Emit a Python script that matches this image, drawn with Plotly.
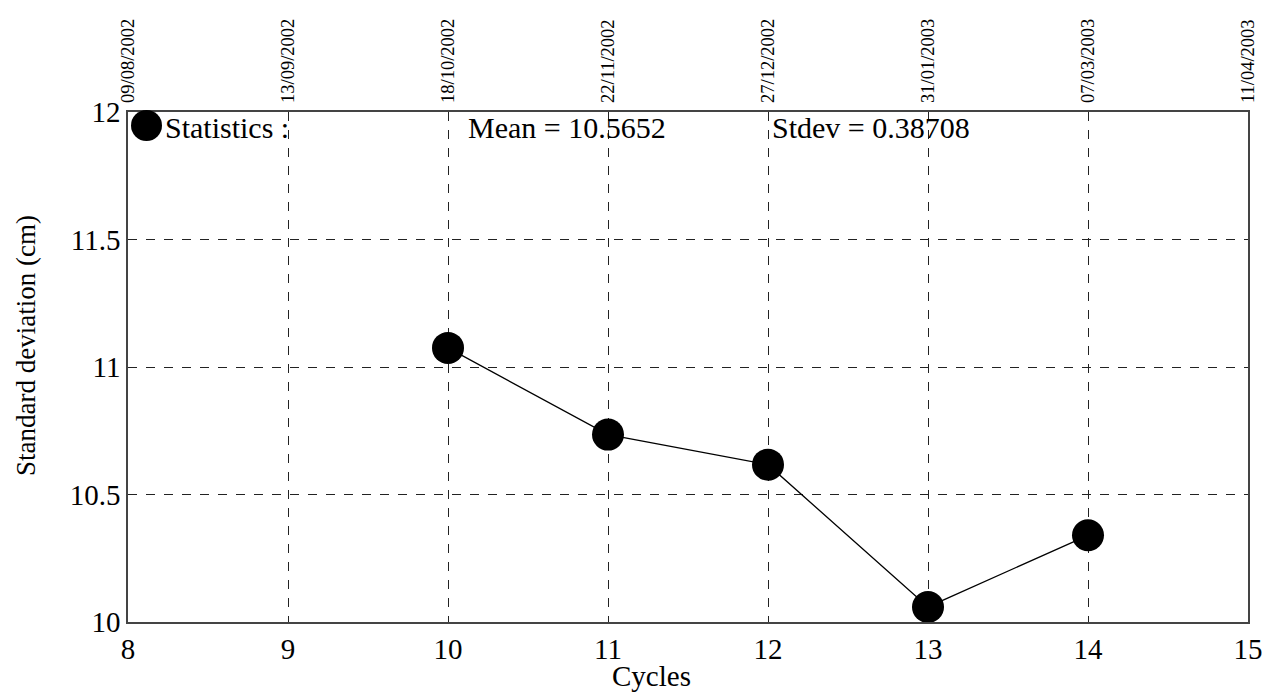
import plotly.graph_objects as go

# ---- data ----
cycles = [10, 11, 12, 13, 14]
std_dev = [11.075, 10.735, 10.617, 10.059, 10.340]
x_ticks = [8, 9, 10, 11, 12, 13, 14, 15]
date_labels = ["09/08/2002", "13/09/2002", "18/10/2002", "22/11/2002",
               "27/12/2002", "31/01/2003", "07/03/2003", "11/04/2003"]
y_ticks = [10, 10.5, 11, 11.5, 12]
y_tick_text = ["10", "10.5", "11", "11.5", "12"]
mean_text = "Mean = 10.5652"
stdev_text = "Stdev = 0.38708"
stats_label = "Statistics :"

FONT = "Liberation Serif"
W, H = 1265, 693
PL, PT, PR, PB = 128, 112, 1248, 622  # plot box in page pixels
pw, ph = PR - PL, PB - PT
L, T, R, B = PL, PT, W - PR, H - PB

def px(x):
    return (x - PL) / pw

def py(y):
    return (PB - y) / ph

fig = go.Figure()
fig.add_trace(go.Scatter(
    x=cycles, y=std_dev, mode="lines+markers",
    line=dict(color="black", width=1.3),
    marker=dict(color="black", size=32),
    showlegend=False, cliponaxis=False,
))
# invisible trace on top axis so it renders
fig.add_trace(go.Scatter(x=[x_ticks[0], x_ticks[-1]], y=[y_ticks[0], y_ticks[0]],
                         xaxis="x2", mode="markers", marker=dict(opacity=0),
                         showlegend=False, hoverinfo="skip"))

grid = dict(showgrid=True, gridcolor="#222", gridwidth=1, griddash="dash")
fig.update_layout(
    width=W, height=H, autosize=False,
    margin=dict(l=L, r=R, t=T, b=B, pad=0, autoexpand=False),
    plot_bgcolor="white", paper_bgcolor="white",
    font=dict(family=FONT, color="black", size=29),
    xaxis=dict(range=[8, 15], tickvals=x_ticks, ticks="", showline=True,
               linecolor="#444", linewidth=1.5, mirror=True, zeroline=False,
               tickfont=dict(size=29), automargin=False, **grid),
    xaxis2=dict(range=[8, 15], overlaying="x", side="top", tickvals=x_ticks,
                ticktext=date_labels, tickangle=-90, ticks="", showgrid=False,
                zeroline=False, showline=False, tickfont=dict(size=18.5),
                ticklabelstandoff=8, automargin=False),
    yaxis=dict(range=[10, 12], tickvals=y_ticks, ticktext=y_tick_text, ticks="",
               showline=True, linecolor="#444", linewidth=1.5, mirror=True,
               zeroline=False, tickfont=dict(size=29), automargin=False, **grid),
)

# statistics legend-like marker
fig.add_shape(type="circle", xref="paper", yref="paper",
              x0=px(131), x1=px(162), y0=py(141), y1=py(110),
              fillcolor="black", line=dict(color="black", width=0), layer="above")

ann = dict(xref="paper", yref="paper", showarrow=False,
           font=dict(family=FONT, size=30, color="black"))
fig.add_annotation(text=stats_label, x=px(163), y=py(127), xanchor="left", yanchor="middle", **ann)
fig.add_annotation(text=mean_text, x=px(466), y=py(127), xanchor="left", yanchor="middle", **ann)
fig.add_annotation(text=stdev_text, x=px(770), y=py(127), xanchor="left", yanchor="middle", **ann)
ann["font"] = dict(family=FONT, size=29, color="black")
fig.add_annotation(text="Cycles", x=px(651), y=py(676), xanchor="center", yanchor="middle", **ann)
ann["font"] = dict(family=FONT, size=27, color="black")
fig.add_annotation(text="Standard deviation (cm)", x=px(26), y=py(346), textangle=-90,
                   xanchor="center", yanchor="middle", **ann)

fig.write_html("out.html", config={"displayModeBar": False},
               post_script="document.body.style.margin='0';document.body.style.overflow='hidden';")
